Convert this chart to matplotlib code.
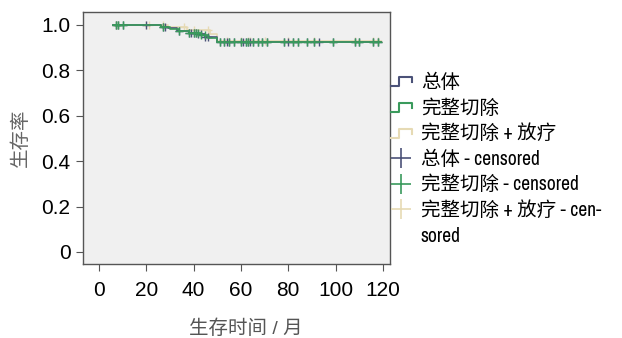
import numpy as np
import matplotlib
matplotlib.use("Agg")
import matplotlib.pyplot as plt
from matplotlib.lines import Line2D
from matplotlib.legend_handler import HandlerBase

plt.rcParams['font.family'] = ['Liberation Sans', 'Noto Sans CJK SC', 'DejaVu Sans']

# 生存曲线 (阶梯)  时间 / 月, 生存率
overall_t = [6, 26, 29, 33, 38, 42, 45, 50, 119]
overall_s = [1.0, 0.992, 0.985, 0.975, 0.966, 0.959, 0.946, 0.925, 0.925]
resect_t = [6, 26, 30, 34, 38, 43, 46, 50, 119]
resect_s = [1.0, 0.991, 0.983, 0.974, 0.965, 0.957, 0.944, 0.924, 0.924]
radio_t = [6, 29, 37, 47, 50, 119]
radio_s = [1.0, 0.99, 0.978, 0.962, 0.928, 0.928]

# 删失时间
overall_c = [7, 8, 10, 20, 27, 28, 34, 38, 39, 40, 41, 42, 43, 45, 46, 51, 53, 54,
             55, 57, 60, 61, 62, 63, 64, 65, 67, 69, 71, 78, 80, 82, 84, 88, 91,
             93, 99, 108, 110, 116, 118]
resect_c = [7, 8, 10, 27, 34, 38, 40, 41, 42, 43, 45, 51, 53, 55, 57, 60, 62, 63,
            65, 67, 69, 71, 78, 82, 84, 88, 91, 99, 108, 110, 116, 118]
radio_c = [7, 8, 20, 21, 27, 36, 40, 46, 54, 60, 63, 64, 70, 80, 91, 108, 116, 118]

labels = ['总体', '完整切除', '完整切除 + 放疗', '总体 - censored',
          '完整切除 - censored', '完整切除 + 放疗 - cen-', 'sored']
c_overall = '#4b5278'
c_resect = '#3a9a5c'
c_radio = '#e6dab4'


def step_at(t, s, x):
    idx = np.searchsorted(t, x, side='right') - 1
    return np.array(s)[idx]


class StepHandler(HandlerBase):
    # 图例里的小阶梯图标
    def create_artists(self, legend, orig, xdescent, ydescent, width, height,
                       fontsize, trans):
        x0 = -xdescent
        y0 = -ydescent
        lo = y0 + height * 0.1
        hi = y0 + height * 0.8
        xs = [x0, x0 + width * 0.4, x0 + width * 0.4, x0 + width, x0 + width]
        ys = [lo, lo, hi, hi, y0 + height * 0.4]
        ln = Line2D(xs, ys, color=orig.get_color(), lw=1.5, transform=trans)
        return [ln]


fig = plt.figure(figsize=(6.22, 3.38), dpi=100)
ax = fig.add_axes([0.1334, 0.219, 0.4936, 0.7455])
ax.set_facecolor('#f0f0f0')

for t, s, c, col in [(radio_t, radio_s, radio_c, c_radio),
                     (overall_t, overall_s, overall_c, c_overall),
                     (resect_t, resect_s, resect_c, c_resect)]:
    ax.step(t, s, where='post', color=col, lw=1.2)
    ax.plot(c, step_at(t, s, c), linestyle='none', marker='+', ms=6,
            mew=1.0, color=col)

ax.set_xlim(-6.8, 123)
ax.set_ylim(-0.053, 1.057)
ax.set_xticks([0, 20, 40, 60, 80, 100, 120])
ax.set_yticks([0, 0.2, 0.4, 0.6, 0.8, 1.0])
ax.set_yticklabels(['0', '0.2', '0.4', '0.6', '0.8', '1.0'])
ax.tick_params(labelsize=15, length=5, color='#555555', pad=4)
ax.tick_params(axis='x', pad=7)
for sp in ax.spines.values():
    sp.set_color('#555555')
    sp.set_linewidth(1.0)

ax.set_xlabel('生存时间 / 月', fontsize=14, color='#555555')
ax.xaxis.set_label_coords(0.531, -0.22)
ax.set_ylabel('生存率', fontsize=14, color='#666666', labelpad=8)

handles = [Line2D([], [], color=c_overall), Line2D([], [], color=c_resect),
           Line2D([], [], color=c_radio),
           Line2D([], [], ls='none', marker='+', ms=14, mew=1.2, color=c_overall),
           Line2D([], [], ls='none', marker='+', ms=14, mew=1.2, color=c_resect),
           Line2D([], [], ls='none', marker='+', ms=14, mew=1.2, color=c_radio),
           Line2D([], [], ls='none', color='none')]
hmap = {handles[0]: StepHandler(), handles[1]: StepHandler(),
        handles[2]: StepHandler()}
leg = fig.legend(handles, labels, handler_map=hmap, loc='upper left',
                 bbox_to_anchor=(0.628, 0.784), frameon=False,
                 prop={'family': ['Archivo Narrow', 'Noto Sans CJK SC',
                                  'DejaVu Sans'], 'size': 14},
                 handlelength=1.1, handleheight=0.65, handletextpad=0.45,
                 labelspacing=0.34, borderpad=0, borderaxespad=0)

fig.savefig('out.png', dpi=100)
